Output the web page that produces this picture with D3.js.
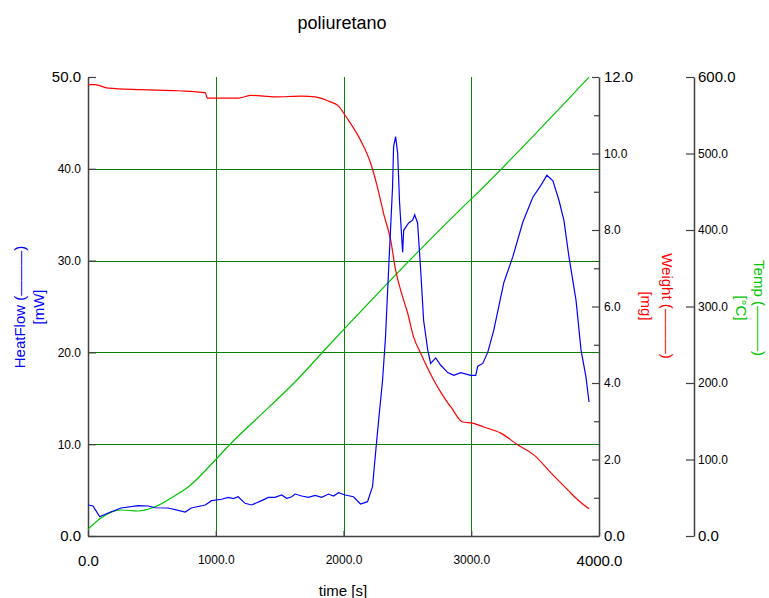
<!DOCTYPE html>
<html>
<head>
<meta charset="utf-8">
<script src="https://cdn.jsdelivr.net/npm/d3@7"></script>
<style>
  html, body { margin: 0; padding: 0; background: #fff; }
  svg { display: block; font-family: "Liberation Sans", Arial, sans-serif; }
</style>
</head>
<body>
<svg id="chart" width="769" height="598"></svg>
<script>
// ---- data ----
const chartTitle = "poliuretano";
const xTicks = [0, 1000, 2000, 3000, 4000];
const hfTicks = [0, 10, 20, 30, 40, 50];
const wTicks = [0, 1, 2, 3, 4, 5, 6, 7, 8, 9, 10, 11, 12];
const tTicks = [0, 100, 200, 300, 400, 500, 600];

const timeHF = [0, 39, 92, 157, 259, 392, 471, 525, 627, 761, 808, 918, 967, 1046, 1098, 1137, 1176, 1229, 1281, 1320, 1359, 1412, 1464, 1516, 1555, 1595, 1621, 1673, 1725, 1778, 1830, 1882, 1922, 1961, 2013, 2078, 2133, 2188, 2227, 2251, 2275, 2306, 2329, 2353, 2384, 2392, 2408, 2424, 2439, 2463, 2471, 2510, 2541, 2557, 2580, 2604, 2627, 2659, 2682, 2722, 2761, 2816, 2863, 2918, 2996, 3035, 3051, 3090, 3129, 3176, 3255, 3325, 3404, 3482, 3545, 3592, 3639, 3686, 3725, 3765, 3820, 3859, 3898, 3922];
const heatFlow = [3.38, 3.27, 2.10, 2.51, 3.05, 3.30, 3.27, 3.08, 3.05, 2.61, 3.05, 3.38, 3.85, 4.00, 4.21, 4.07, 4.28, 3.56, 3.38, 3.63, 3.85, 4.21, 4.21, 4.47, 4.10, 4.28, 4.57, 4.36, 4.21, 4.43, 4.21, 4.57, 4.36, 4.72, 4.47, 4.28, 3.49, 3.74, 5.37, 9.04, 12.6, 17.0, 21.7, 29.0, 38.0, 42.4, 43.5, 41.7, 36.3, 30.9, 33.3, 34.1, 34.4, 35.0, 34.1, 29.0, 23.5, 20.3, 18.8, 19.4, 18.6, 17.8, 17.5, 17.8, 17.5, 17.5, 18.5, 18.8, 20.0, 22.4, 27.6, 30.4, 34.2, 36.9, 38.2, 39.3, 38.7, 36.6, 34.4, 30.4, 25.7, 20.3, 17.3, 14.6];

const timeW = [0, 55, 157, 416, 706, 918, 933, 1176, 1278, 1467, 1671, 1780, 1882, 1961, 2016, 2133, 2212, 2267, 2314, 2369, 2408, 2463, 2502, 2549, 2604, 2706, 2761, 2816, 2839, 2933, 3012, 3098, 3231, 3365, 3490, 3624, 3757, 3835, 3922];
const weight = [11.80, 11.80, 11.71, 11.67, 11.64, 11.59, 11.45, 11.45, 11.52, 11.48, 11.50, 11.48, 11.37, 11.24, 10.98, 10.35, 9.75, 9.10, 8.43, 7.74, 6.95, 6.25, 5.83, 5.20, 4.78, 4.08, 3.76, 3.48, 3.38, 2.98, 2.95, 2.85, 2.69, 2.38, 2.12, 1.65, 1.20, 0.94, 0.71];

const timeT = [0, 102, 259, 392, 525, 651, 784, 1004, 1122, 1310, 1624, 1890, 2910, 3009, 3922];
const temp = [8.8, 23.5, 34, 32.7, 38.3, 49.7, 64, 100.7, 121.6, 151.6, 202, 250, 426, 442, 600];

// ---- layout ----
const L = 88, R = 599, T = 77, B = 536;
const tempAxisX = 694;
const svg = d3.select("#chart");

const x = d3.scaleLinear().domain([0, 4000]).range([L, R]);
const yHF = d3.scaleLinear().domain([0, 50]).range([B, T]);
const yW = d3.scaleLinear().domain([0, 12]).range([B, T]);
const yT = d3.scaleLinear().domain([0, 600]).range([B, T]);

const gridColor = "#0a7d0a";
const axisColor = "#404040";

// gridlines
const grid = svg.append("g");
grid.selectAll("line.h").data([10, 20, 30, 40]).join("line")
  .attr("x1", L).attr("x2", R)
  .attr("y1", d => Math.round(yHF(d)) + 0.5).attr("y2", d => Math.round(yHF(d)) + 0.5)
  .attr("stroke", gridColor).attr("stroke-width", 1);
grid.selectAll("line.v").data([1000, 2000, 3000]).join("line")
  .attr("y1", T).attr("y2", B)
  .attr("x1", d => Math.round(x(d)) + 0.5).attr("x2", d => Math.round(x(d)) + 0.5)
  .attr("stroke", gridColor).attr("stroke-width", 1);

function styleAxis(g, isBig) {
  g.select(".domain").attr("stroke", axisColor).attr("stroke-width", 1.5);
  g.selectAll(".tick line").attr("stroke", axisColor).attr("stroke-width", 1.2);
  g.selectAll(".tick text")
    .attr("fill", "#000")
    .style("font-family", '"Liberation Sans", Arial, sans-serif')
    .style("font-size", d => isBig(d) ? "15px" : "12px");
}

const fmt = d3.format(".1f");

// left axis (HeatFlow)
const gL = svg.append("g").attr("transform", `translate(${L},0)`)
  .call(d3.axisLeft(yHF).tickValues(hfTicks).tickSizeInner(-8).tickSizeOuter(0).tickPadding(7).tickFormat(fmt));
styleAxis(gL, d => d === 0 || d === 50);

// bottom axis (time)
const gB = svg.append("g").attr("transform", `translate(0,${B})`)
  .call(d3.axisBottom(x).tickValues(xTicks).tickSizeInner(-5).tickSizeOuter(0).tickPadding(19).tickFormat(fmt));
styleAxis(gB, d => d === 0 || d === 4000);

// right axis (Weight)
const gW = svg.append("g").attr("transform", `translate(${R},0)`)
  .call(d3.axisRight(yW).tickValues(wTicks).tickSizeInner(-7).tickSizeOuter(0).tickPadding(5)
    .tickFormat(d => d % 2 === 0 ? fmt(d) : ""));
styleAxis(gW, d => d === 0 || d === 12);
gW.selectAll(".tick line").attr("x2", d => d % 2 === 0 ? -7 : -5);

// far right axis (Temp)
const gT = svg.append("g").attr("transform", `translate(${tempAxisX},0)`)
  .call(d3.axisRight(yT).tickValues(tTicks).tickSizeInner(-8).tickSizeOuter(0).tickPadding(4).tickFormat(fmt));
styleAxis(gT, d => d === 0 || d === 600);

// curves
const lineHF = d3.line().x((d, i) => x(timeHF[i])).y(d => yHF(d));
const lineW = d3.line().x((d, i) => x(timeW[i])).y(d => yW(d)).curve(d3.curveMonotoneX);
const lineT = d3.line().x((d, i) => x(timeT[i])).y(d => yT(d)).curve(d3.curveMonotoneX);

svg.append("path").datum(temp).attr("d", lineT)
  .attr("fill", "none").attr("stroke", "#00c400").attr("stroke-width", 1.2);
svg.append("path").datum(weight).attr("d", lineW)
  .attr("fill", "none").attr("stroke", "#ff0000").attr("stroke-width", 1.2);
svg.append("path").datum(heatFlow).attr("d", lineHF)
  .attr("fill", "none").attr("stroke", "#0000ff").attr("stroke-width", 1.2);

// texts
svg.append("text").attr("x", 342).attr("y", 29).attr("text-anchor", "middle")
  .style("font-size", "18px").attr("fill", "#000").text(chartTitle);

svg.append("text").attr("x", 343).attr("y", 596).attr("text-anchor", "middle")
  .style("font-size", "15px").attr("fill", "#000").text("time [s]");

function vLabel(cx, cy, angle, color, txt) {
  svg.append("text")
    .attr("transform", `translate(${cx},${cy}) rotate(${angle})`)
    .attr("text-anchor", "middle").attr("dominant-baseline", "central")
    .style("font-size", "15px").attr("fill", color).text(txt);
}
vLabel(19, 307, -90, "#0000ff", "HeatFlow (———)");
vLabel(38, 307, -90, "#0000ff", "[mW]");
vLabel(667, 306, 90, "#ff0000", "Weight (———)");
vLabel(646, 306, 90, "#ff0000", "[mg]");
vLabel(759, 308, 90, "#00c400", "Temp (———)");
vLabel(741, 308, 90, "#00c400", "[°C]");
</script>
</body>
</html>
